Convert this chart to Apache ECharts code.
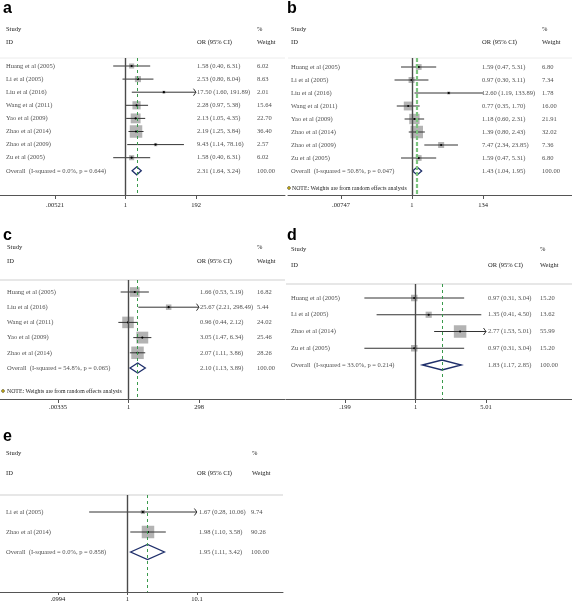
<!DOCTYPE html>
<html><head><meta charset="utf-8">
<script src="https://cdn.jsdelivr.net/npm/echarts@6/dist/echarts.min.js"></script>
<style>html,body{margin:0;padding:0;background:#fff}#c{width:572px;height:603px}</style>
</head><body><div id="c"></div><script>
// ---------- DATA ----------
// Panel a
const studiesA = ['Huang et al (2005)','Li et al (2005)','Liu et al (2016)','Wang et al (2011)','Yao et al (2009)','Zhao et al (2014)','Zhao et al (2009)','Zu et al (2005)'];
const orA = [1.58, 2.53, 17.50, 2.28, 2.13, 2.19, 9.43, 1.58];
const loA = [0.40, 0.80, 1.60, 0.97, 1.05, 1.25, 1.14, 0.40];
const hiA = [6.31, 8.04, 191.89, 5.38, 4.35, 3.84, 78.16, 6.31];
const wA  = [6.02, 8.63, 2.01, 15.64, 22.70, 36.40, 2.57, 6.02];
const overallA = [2.31, 1.64, 3.24];
const hetA = 'Overall  (I-squared = 0.0%, p = 0.644)';
const ticksA = ['.00521', '1', '192'];
// Panel b
const studiesB = ['Huang et al (2005)','Li et al (2005)','Liu et al (2016)','Wang et al (2011)','Yao et al (2009)','Zhao et al (2014)','Zhao et al (2009)','Zu et al (2005)'];
const orB = [1.59, 0.97, 12.60, 0.77, 1.18, 1.39, 7.47, 1.59];
const loB = [0.47, 0.30, 1.19, 0.35, 0.60, 0.80, 2.34, 0.47];
const hiB = [5.31, 3.11, 133.89, 1.70, 2.31, 2.43, 23.85, 5.31];
const wB  = [6.80, 7.34, 1.78, 16.00, 21.91, 32.02, 7.36, 6.80];
const overallB = [1.43, 1.04, 1.95];
const hetB = 'Overall  (I-squared = 50.8%, p = 0.047)';
const ticksB = ['.00747', '1', '134'];
// Panel c
const studiesC = ['Huang et al (2005)','Liu et al (2016)','Wang et al (2011)','Yao et al (2009)','Zhao et al (2014)'];
const orC = [1.66, 25.67, 0.96, 3.05, 2.07];
const loC = [0.53, 2.21, 0.44, 1.47, 1.11];
const hiC = [5.19, 298.49, 2.12, 6.34, 3.86];
const wC  = [16.82, 5.44, 24.02, 25.46, 28.26];
const overallC = [2.10, 1.13, 3.89];
const hetC = 'Overall  (I-squared = 54.8%, p = 0.065)';
const ticksC = ['.00335', '1', '298'];
// Panel d
const studiesD = ['Huang et al (2005)','Li et al (2005)','Zhao et al (2014)','Zu et al (2005)'];
const orD = [0.97, 1.35, 2.77, 0.97];
const loD = [0.31, 0.41, 1.53, 0.31];
const hiD = [3.04, 4.50, 5.01, 3.04];
const wD  = [15.20, 13.62, 55.99, 15.20];
const overallD = [1.83, 1.17, 2.85];
const hetD = 'Overall  (I-squared = 33.0%, p = 0.214)';
const ticksD = ['.199', '1', '5.01'];
// Panel e
const studiesE = ['Li et al (2005)','Zhao et al (2014)'];
const orE = [1.67, 1.98];
const loE = [0.28, 1.10];
const hiE = [10.06, 3.58];
const wE  = [9.74, 90.26];
const overallE = [1.95, 1.11, 3.42];
const hetE = 'Overall  (I-squared = 0.0%, p = 0.858)';
const ticksE = ['.0994', '1', '10.1'];
const noteText = 'NOTE: Weights are from random effects analysis';

// ---------- LAYOUT ----------
const SERIF = '"Liberation Serif", "DejaVu Serif", serif';
const FS = 6.5;
const TXT = '#222';
const panels = [
  {letter:'a', names:studiesA, or:orA, lo:loA, hi:hiA, w:wA, ov:overallA, het:hetA, ticks:ticksA,
   L:0, R:285, top:58, bottom:195, row1:66, sp:13.1, tickPx:[55,196], colX:[6,197,257],
   hdr:{sy:29, iy:42, orX:197, pX:257}, let:[3,9], dH:4, margin:7, tickLen:4, sep:'#ececec',
   arrows:true, note:null, green:{color:'#3a9a4c', width:1, type:[3,3]}},
  {letter:'b', names:studiesB, or:orB, lo:loB, hi:hiB, w:wB, ov:overallB, het:hetB, ticks:ticksB,
   L:288, R:572, top:58, bottom:195, row1:67, sp:13, tickPx:[341,483], colX:[291,482,542],
   hdr:{sy:29, iy:42, orX:482, pX:542}, let:[287,9], dH:4, margin:7, tickLen:4, sep:'#ececec',
   arrows:false, note:{y:188, dx:289, tx:292}, green:{color:'#7cc47f', width:2.2, type:[4,2]}},
  {letter:'c', names:studiesC, or:orC, lo:loC, hi:hiC, w:wC, ov:overallC, het:hetC, ticks:ticksC,
   L:0, R:285, top:280, bottom:399, row1:292, sp:15.2, tickPx:[58,199], colX:[7,200,257],
   hdr:{sy:247, iy:261, orX:197, pX:257}, let:[3,236], dH:5, margin:5, tickLen:4, sep:'#cfcfcf',
   arrows:true, note:{y:391, dx:3, tx:7}, green:{color:'#3a9a4c', width:1, type:[3,3]}},
  {letter:'d', names:studiesD, or:orD, lo:loD, hi:hiD, w:wD, ov:overallD, het:hetD, ticks:ticksD,
   L:286, R:572, top:284, bottom:399, row1:298, sp:16.75, tickPx:[345,486], colX:[291,488,540],
   hdr:{sy:249, iy:265, orX:488, pX:540}, let:[287,236], dH:5, margin:5, tickLen:4, sep:'#cfcfcf',
   arrows:true, note:null, green:{color:'#3a9a4c', width:1, type:[3,3]}},
  {letter:'e', names:studiesE, or:orE, lo:loE, hi:hiE, w:wE, ov:overallE, het:hetE, ticks:ticksE,
   L:0, R:283, top:495, bottom:592, row1:512, sp:20, tickPx:[58,197], colX:[6,199,251],
   hdr:{sy:453, iy:473, orX:197, pX:252}, let:[3,437], dH:7.5, margin:4, tickLen:3, sep:'#cfcfcf',
   arrows:true, note:null, green:{color:'#3a9a4c', width:1, type:[3,3]}}
];

const grids = [], xAxes = [], yAxes = [], series = [], graphics = [];
const f2 = v => v.toFixed(2);
const txt = (x, y, text, extra) => ({type:'text', x, y, silent:true,
  style:Object.assign({text, font: FS + 'px ' + SERIF, fill:TXT, align:'left', verticalAlign:'middle'}, extra||{})});

panels.forEach((p, i) => {
  const tv = p.ticks.map(t => Math.log(parseFloat(t)));
  const lnLo = tv[0], lnHi = tv[2];
  const scale = (p.tickPx[1] - p.tickPx[0]) / (lnHi - lnLo);
  const xmin = lnLo - (p.tickPx[0] - p.L) / scale;
  const xmax = lnHi + (p.R - p.tickPx[1]) / scale;
  const n = p.names.length;
  const ymin = 1 + (p.top - p.row1) / p.sp;
  const ymax = 1 + (p.bottom - p.row1) / p.sp;
  const wMax = Math.max(...p.w);

  grids.push({left:p.L, top:p.top, width:p.R - p.L, height:p.bottom - p.top, containLabel:false});
  xAxes.push({type:'value', gridIndex:i, min:xmin, max:xmax,
    axisLine:{show:true, lineStyle:{color:'#555', width:1}},
    axisTick:{show:true, customValues:tv, length:p.tickLen, lineStyle:{color:'#555', width:1}},
    axisLabel:{show:true, customValues:tv, margin:p.margin, fontFamily:SERIF, fontSize:FS, color:TXT,
      formatter: v => { let k = 0, d = 1e9; tv.forEach((t, j) => { if (Math.abs(t - v) < d) { d = Math.abs(t - v); k = j; } }); return p.ticks[k]; }},
    splitLine:{show:false}});
  xAxes.push({type:'value', gridIndex:i, min:p.L, max:p.R, show:false});
  yAxes.push({type:'value', gridIndex:i, min:ymin, max:ymax, inverse:true, show:false});

  const xa = 2 * i, xt = 2 * i + 1;
  // studies
  series.push({type:'custom', xAxisIndex:xa, yAxisIndex:i, clip:false, silent:true, z:3,
    data: p.names.map((nm, k) => [Math.log(p.or[k]), k + 1, Math.log(p.lo[k]), Math.log(p.hi[k]), p.w[k]]),
    renderItem: (params, api) => {
      const est = api.value(0), row = api.value(1), lo = api.value(2), hi = api.value(3), w = api.value(4);
      const cLo = Math.max(lo, lnLo), cHi = Math.min(hi, lnHi);
      const pE = api.coord([est, row]), pL = api.coord([cLo, row]), pH = api.coord([cHi, row]);
      const s = 12.5 * Math.sqrt(w / wMax);
      const ch = [
        {type:'rect', shape:{x:pE[0] - s / 2, y:pE[1] - s / 2, width:s, height:s}, style:{fill:'#b3b3b3'}},
        {type:'line', shape:{x1:pL[0], y1:pL[1], x2:pH[0], y2:pH[1]}, style:{stroke:'#333', lineWidth:1}},
        {type:'circle', shape:{cx:pE[0], cy:pE[1], r:1.1}, style:{fill:'#000'}}
      ];
      if (p.arrows && hi >= lnHi - 0.01) {
        ch.push({type:'polyline', shape:{points:[[pH[0] - 2.5, pH[1] - 3.5], [pH[0], pH[1]], [pH[0] - 2.5, pH[1] + 3.5]]},
          style:{stroke:'#333', fill:'none', lineWidth:1}});
      }
      return {type:'group', children:ch};
    }});
  // overall diamond + reference lines
  series.push({type:'custom', xAxisIndex:xa, yAxisIndex:i, clip:false, silent:true, z:4,
    data:[[Math.log(p.ov[0]), n + 1, Math.log(p.ov[1]), Math.log(p.ov[2])]],
    renderItem: (params, api) => {
      const row = api.value(1);
      const c = api.coord([api.value(0), row]), a = api.coord([api.value(2), row]), b = api.coord([api.value(3), row]);
      return {type:'polygon', shape:{points:[[a[0], a[1]], [c[0], c[1] - p.dH], [b[0], b[1]], [c[0], c[1] + p.dH]]},
        style:{fill:'#fff', stroke:'#1f2f6b', lineWidth:1.3}};
    },
    markLine:{silent:true, symbol:'none', label:{show:false}, animation:false,
      data:[
        {xAxis:0, lineStyle:{color:'#4a4a4a', width:1.4, type:'solid'}},
        {xAxis:Math.log(p.ov[0]), lineStyle:{color:p.green.color, width:p.green.width, type:p.green.type}}
      ]}});
  // text columns
  const td = [];
  p.names.forEach((nm, k) => {
    td.push({value:[p.colX[0], k + 1], name:nm});
    td.push({value:[p.colX[1], k + 1], name:f2(p.or[k]) + ' (' + f2(p.lo[k]) + ', ' + f2(p.hi[k]) + ')'});
    td.push({value:[p.colX[2], k + 1], name:f2(p.w[k])});
  });
  td.push({value:[p.colX[0], n + 1], name:p.het});
  td.push({value:[p.colX[1], n + 1], name:f2(p.ov[0]) + ' (' + f2(p.ov[1]) + ', ' + f2(p.ov[2]) + ')'});
  td.push({value:[p.colX[2], n + 1], name:f2(100)});
  series.push({type:'scatter', xAxisIndex:xt, yAxisIndex:i, symbolSize:0, silent:true, clip:false, z:5,
    data:td, label:{show:true, position:'right', distance:0, formatter:'{b}', fontFamily:SERIF, fontSize:FS, color:TXT,
      align:'left', verticalAlign:'middle'}});

  // headers, letter, separator, note
  graphics.push({type:'text', x:p.let[0], y:p.let[1], silent:true,
    style:{text:p.letter, font:'bold 16px "Liberation Sans", Arial, sans-serif', fill:'#000', align:'left', verticalAlign:'middle'}});
  graphics.push(txt(p.colX[0], p.hdr.sy, 'Study'));
  graphics.push(txt(p.colX[0], p.hdr.iy, 'ID'));
  graphics.push(txt(p.hdr.orX, p.hdr.iy, 'OR (95% CI)'));
  graphics.push(txt(p.hdr.pX, p.hdr.sy, '%'));
  graphics.push(txt(p.hdr.pX, p.hdr.iy, 'Weight'));
  graphics.push({type:'line', silent:true, shape:{x1:p.L, y1:p.top, x2:p.R, y2:p.top}, style:{stroke:p.sep, lineWidth:1}, z:-1});
  if (p.note) {
    graphics.push({type:'circle', silent:true, shape:{cx:p.note.dx, cy:p.note.y, r:1.4}, style:{fill:'#f2d21b', stroke:'#000', lineWidth:0.5}});
    graphics.push(txt(p.note.tx, p.note.y, noteText, {font:'5.8px ' + SERIF}));
  }
});

const chart = echarts.init(document.getElementById('c'), null, {renderer:'canvas'});
chart.setOption({animation:false, backgroundColor:'#fff', grid:grids, xAxis:xAxes, yAxis:yAxes, series, graphic:graphics});
</script></body></html>
